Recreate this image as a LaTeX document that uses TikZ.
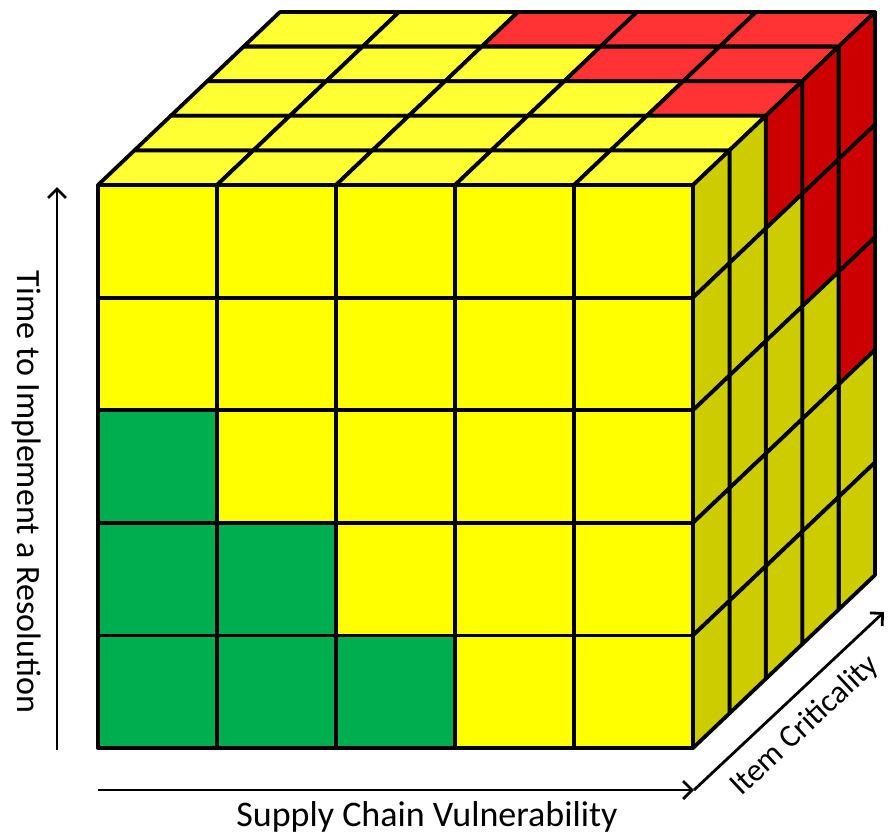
\documentclass[tikz,border=0pt]{standalone}
\usepackage{fontspec}
\setmainfont{Carlito}
\usetikzlibrary{arrows.meta}
\definecolor{fy}{HTML}{FFFF00}
\definecolor{ty}{HTML}{FFFF33}
\definecolor{sy}{HTML}{CCCC00}
\definecolor{tr}{HTML}{FF3333}
\definecolor{sr}{HTML}{CC0000}
\definecolor{grn}{HTML}{00AD4F}
\begin{document}
\begin{tikzpicture}[x=1pt,y=-1pt,
  cell/.style={draw=black, line width=3.8pt, line join=round},
  axis/.style={line width=2.8pt, -{Straight Barb[length=9pt,width=18pt,line width=2.8pt]}},
  lab/.style={font=\fontsize{34}{40}\selectfont, inner sep=0pt}]
\useasboundingbox (0,0) rectangle (888,836);
% top face
\foreach \k in {4,3,...,0}{
  \foreach \i in {0,...,4}{
    \pgfmathtruncatemacro\r{(\i+\k>=6)?1:0}
    \ifnum\r=1 \def\tc{tr}\else\def\tc{ty}\fi
    \draw[cell, fill=\tc] ({98+119*\i+36.4*\k},{185-34.6*\k}) -- ({217+119*\i+36.4*\k},{185-34.6*\k}) -- ({217+119*\i+36.4*(\k+1)},{185-34.6*(\k+1)}) -- ({98+119*\i+36.4*(\k+1)},{185-34.6*(\k+1)}) -- cycle;
  }
}
% right face
\foreach \k in {4,3,...,0}{
  \foreach \j in {0,...,4}{
    \pgfmathtruncatemacro\r{(\k-\j>=2)?1:0}
    \ifnum\r=1 \def\sc{sr}\else\def\sc{sy}\fi
    \draw[cell, fill=\sc] ({693+36.4*\k},{185+112.6*\j-34.6*\k}) -- ({693+36.4*(\k+1)},{185+112.6*\j-34.6*(\k+1)}) -- ({693+36.4*(\k+1)},{297.6+112.6*\j-34.6*(\k+1)}) -- ({693+36.4*\k},{297.6+112.6*\j-34.6*\k}) -- cycle;
  }
}
% front face
\foreach \i in {0,...,4}{
  \foreach \j in {0,...,4}{
    \pgfmathtruncatemacro\g{(\j-\i>=2)?1:0}
    \ifnum\g=1 \def\fc{grn}\else\def\fc{fy}\fi
    \draw[cell, fill=\fc] ({98+119*\i},{185+112.6*\j}) rectangle ({217+119*\i},{297.6+112.6*\j});
  }
}
% axes
\coordinate (vb) at (57,750);
\coordinate (vt) at (57,187);
\coordinate (hb) at (98,790);
\coordinate (corner) at (694,790);
\coordinate (dt) at (884,612);
\draw[axis] (vb) -- (vt);
\draw[axis] (hb) -- (corner);
\draw[axis] (corner) -- (dt);
% labels
\node[lab, rotate=-90] (tl) at (27,492) {Time to Implement a Resolution};
\node[lab, font=\fontsize{36}{42}\selectfont] (sl) at (427,817) {Supply Chain Vulnerability};
\node[lab, rotate=43, font=\fontsize{32}{38}\selectfont] (il) at (805,726) {Item Criticality};
\end{tikzpicture}
\end{document}
